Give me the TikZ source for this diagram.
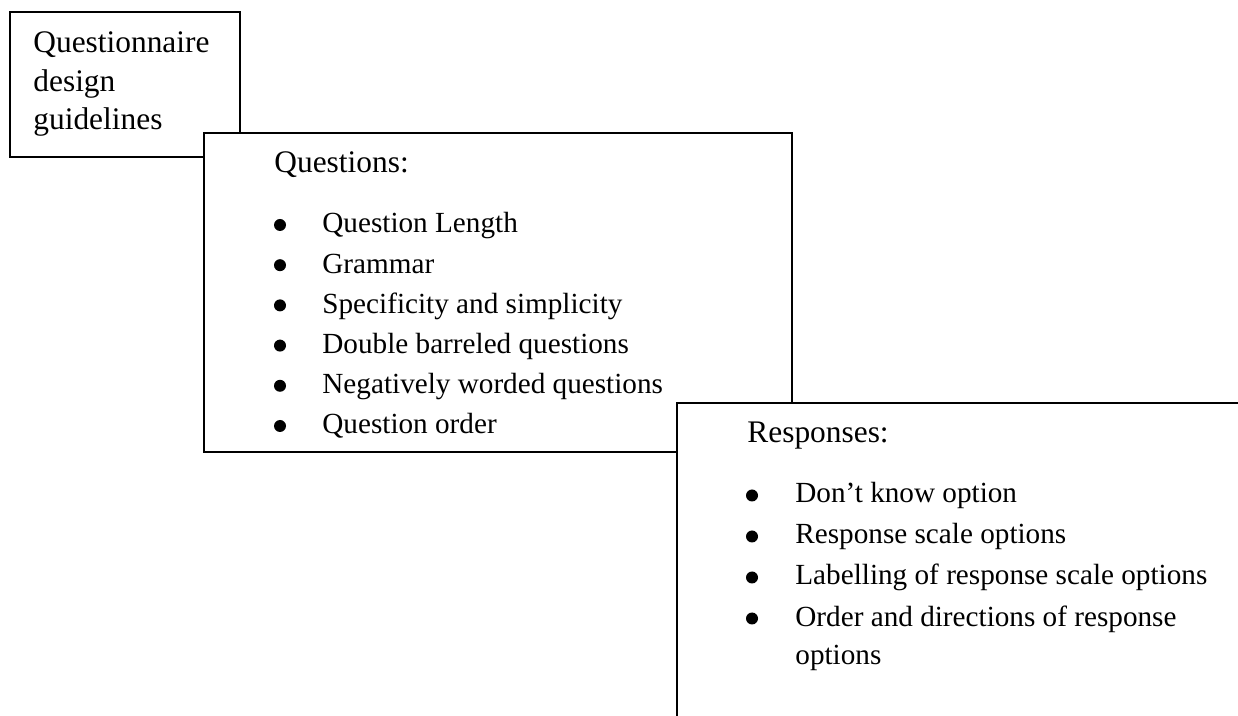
\documentclass[tikz,border=0pt]{standalone}
\usepackage{fontspec}
\setmainfont{Liberation Serif}
\begin{document}
\begin{tikzpicture}[x=0.5pt,y=-0.5pt,
  boxst/.style={draw=black,line width=0.9pt,fill=white,inner sep=0pt,outer sep=0pt,anchor=north west},
  headst/.style={anchor=base west,inner sep=0pt,font=\fontsize{15.7}{18}\selectfont},
  itemst/.style={anchor=base west,inner sep=0pt,font=\fontsize{14.6}{17}\selectfont},
  bulst/.style={circle,fill=black,draw=none,inner sep=0pt,minimum size=6pt}]
\useasboundingbox (0,0) rectangle (1238,716);
\clip (0,0) rectangle (1238,716);
\fill[white] (0,0) rectangle (1238,716);
% box 1
\node[boxst,minimum width=115pt,minimum height=72.5pt] (guide) at (10,12) {};
\node[headst] (g1) at (33,53) {Questionnaire};
\node[headst] (g2) at (33,92) {design};
\node[headst] (g3) at (33,130) {guidelines};
% box 2
\node[boxst,minimum width=294pt,minimum height=159.5pt] (qbox) at (204,133) {};
\node[headst] (qh) at (274,173) {Questions:};
\node[bulst] (qb1) at (280,225) {};
\node[itemst] (q1) at (322,233) {Question Length};
\node[bulst] (qb2) at (280,265.2) {};
\node[itemst] (q2) at (322,273.2) {Grammar};
\node[bulst] (qb3) at (280,305.4) {};
\node[itemst] (q3) at (322,313.4) {Specificity and simplicity};
\node[bulst] (qb4) at (280,345.6) {};
\node[itemst] (q4) at (322,353.6) {Double barreled questions};
\node[bulst] (qb5) at (280,385.8) {};
\node[itemst] (q5) at (322,393.8) {Negatively worded questions};
\node[bulst] (qb6) at (280,426) {};
\node[itemst] (q6) at (322,434) {Question order};
% box 3
\node[boxst,minimum width=290pt,minimum height=166pt] (rbox) at (677,403) {};
\node[headst] (rh) at (747,443) {Responses:};
\node[bulst] (rb1) at (752,495.5) {};
\node[itemst] (r1) at (795,503) {Don’t know option};
\node[bulst] (rb2) at (752,536.5) {};
\node[itemst] (r2) at (795,544) {Response scale options};
\node[bulst] (rb3) at (752,577.5) {};
\node[itemst] (r3) at (795,585) {Labelling of response scale options};
\node[bulst] (rb4) at (752,618.5) {};
\node[itemst] (r4) at (795,626) {Order and directions of response};
\node[itemst] (r5) at (795,665) {options};
\end{tikzpicture}
\end{document}
